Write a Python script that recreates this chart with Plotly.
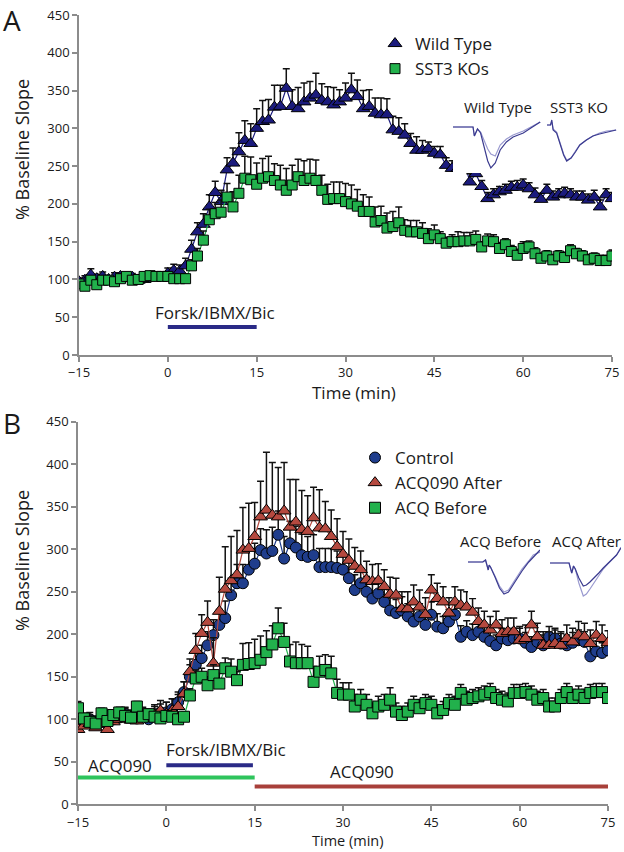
import plotly.graph_objects as go

# ---------------- data ----------------
time_min = list(range(-15, 76))

# Panel A
wt_mean = [97, 99, 106, 101, 104, 100, 103, 104, 101, 103,
           99, 100, 104, 103, 103, 108, 112, 111, 118, 140,
           163, 173, 196, 215, 203, 245, 254, 269, 284, 280,
           300, 309, 311, 328, 329, 353, 329, 326, 335, 340,
           344, 337, 335, 331, 335, 340, 351, 342, 326, 329,
           320, 318, 318, 298, 296, 291, 280, 271, 271, 273,
           267, 265, 251, 247, 247, 258, 229, 240, 223, 207,
           212, 216, 218, 222, 222, 225, 220, 212, 206, 218,
           209, 212, 214, 212, 209, 209, 205, 209, 196, 212,
           207]
wt_sem = [5, 6, 8, 6, 6, 5, 6, 5, 6, 5,
          5, 6, 5, 6, 6, 7, 8, 8, 10, 12,
          12, 14, 16, 15, 15, 16, 20, 25, 26, 26,
          26, 28, 27, 29, 28, 26, 22, 28, 25, 22,
          29, 22, 20, 23, 16, 20, 22, 22, 24, 22,
          20, 22, 21, 18, 18, 15, 13, 18, 13, 9,
          9, 11, 10, 10, 10, 9, 11, 7, 8, 8,
          8, 7, 8, 8, 9, 8, 8, 9, 8, 8,
          8, 8, 8, 8, 8, 8, 8, 9, 9, 8,
          8]
ko_mean = [94, 91, 99, 93, 99, 99, 97, 101, 104, 99,
           100, 104, 105, 104, 104, 104, 101, 101, 101, 118,
           131, 152, 179, 187, 189, 209, 196, 214, 234, 232,
           226, 234, 236, 231, 225, 218, 225, 236, 231, 234,
           231, 218, 206, 207, 207, 203, 200, 197, 190, 190,
           176, 178, 168, 170, 175, 165, 163, 163, 161, 154,
           159, 154, 148, 150, 150, 151, 151, 153, 143, 151,
           150, 141, 146, 137, 132, 141, 143, 134, 128, 131,
           126, 131, 129, 138, 134, 131, 126, 128, 125, 125,
           131]
ko_sem = [4, 4, 4, 4, 4, 4, 4, 4, 4, 4,
          4, 4, 4, 4, 4, 5, 5, 5, 6, 8,
          10, 12, 14, 15, 16, 18, 20, 24, 29, 30,
          28, 26, 27, 22, 26, 29, 26, 23, 26, 25,
          27, 20, 20, 22, 22, 24, 25, 22, 22, 19,
          20, 19, 20, 20, 21, 14, 15, 15, 14, 13,
          13, 9, 8, 9, 13, 11, 11, 11, 7, 9,
          9, 8, 8, 8, 8, 9, 8, 8, 7, 7,
          7, 7, 7, 8, 7, 7, 7, 7, 7, 7,
          8]

# Panel B
ctrl_mean = [95, 98, 100, 97, 99, 104, 100, 102, 106, 103,
             101, 104, 100, 106, 108, 108, 112, 120, 132, 150,
             164, 172, 187, 199, 211, 219, 246, 260, 260, 276,
             283, 299, 295, 298, 317, 289, 307, 302, 293, 291,
             293, 279, 279, 279, 278, 276, 266, 252, 260, 250,
             242, 248, 238, 228, 225, 228, 221, 215, 221, 211,
             223, 209, 207, 215, 223, 197, 203, 199, 203, 197,
             192, 187, 195, 193, 195, 195, 190, 185, 191, 187,
             197, 195, 189, 187, 190, 193, 191, 174, 180, 178,
             181]
ctrl_sem = [8, 7, 8, 7, 8, 7, 8, 7, 8, 8,
            8, 8, 8, 9, 10, 12, 12, 12, 12, 14,
            15, 15, 16, 18, 18, 20, 20, 22, 22, 24,
            24, 25, 28, 28, 28, 26, 26, 25, 25, 24,
            24, 22, 22, 22, 20, 20, 20, 18, 18, 18,
            18, 18, 17, 16, 16, 16, 15, 15, 15, 15,
            15, 15, 14, 14, 14, 13, 13, 13, 13, 13,
            12, 12, 12, 12, 12, 12, 12, 12, 12, 12,
            12, 12, 12, 12, 12, 12, 12, 12, 12, 12,
            12]
after_mean = [88, 92, 95, 90, 94, 88, 97, 100, 103, 99,
              98, 104, 101, 105, 110, 106, 110, 115, 130, 156,
              181, 201, 214, 166, 227, 253, 263, 270, 299, 301,
              315, 338, 346, 340, 338, 345, 326, 332, 323, 321,
              337, 325, 324, 315, 303, 294, 287, 280, 276, 264,
              262, 263, 256, 247, 246, 230, 230, 238, 232, 223,
              252, 242, 238, 225, 238, 234, 232, 226, 215, 211,
              205, 211, 201, 203, 203, 193, 195, 211, 197, 187,
              187, 189, 187, 195, 191, 199, 197, 189, 199, 195,
              190]
after_sem = [10, 10, 10, 10, 10, 10, 10, 10, 10, 10,
             10, 10, 10, 12, 12, 14, 14, 14, 14, 15,
             20, 22, 25, 30, 40, 50, 52, 52, 50, 53,
             40, 42, 68, 62, 58, 57, 56, 50, 46, 42,
             36, 45, 32, 31, 33, 27, 25, 22, 22, 22,
             20, 20, 20, 20, 20, 20, 20, 20, 20, 20,
             18, 18, 18, 18, 18, 18, 18, 16, 16, 16,
             16, 16, 16, 16, 16, 16, 16, 16, 16, 16,
             16, 16, 16, 16, 16, 16, 16, 16, 16, 16,
             14]
before_mean = [113, 101, 97, 95, 107, 98, 105, 108, 104, 102,
               115, 103, 106, 103, 101, 104, 103, 100, 103, 128,
               148, 150, 140, 152, 142, 160, 156, 146, 164, 165,
               166, 170, 179, 188, 207, 191, 168, 166, 166, 166,
               144, 156, 158, 154, 131, 129, 129, 115, 123, 117,
               107, 115, 117, 123, 109, 105, 109, 117, 113, 119,
               117, 107, 111, 119, 117, 131, 123, 125, 127, 129,
               132, 125, 123, 121, 131, 131, 132, 129, 123, 125,
               115, 115, 125, 132, 125, 129, 125, 131, 132, 132,
               125]
before_sem = [8, 6, 6, 6, 6, 6, 6, 6, 6, 6,
              6, 6, 6, 6, 6, 6, 6, 6, 6, 8,
              10, 10, 10, 12, 12, 12, 15, 10, 25, 25,
              28, 28, 25, 22, 24, 22, 20, 25, 22, 20,
              18, 18, 18, 20, 16, 14, 14, 14, 12, 12,
              12, 12, 12, 14, 10, 10, 10, 10, 10, 10,
              10, 10, 10, 10, 10, 10, 10, 10, 10, 10,
              10, 10, 10, 10, 10, 10, 10, 10, 10, 10,
              10, 10, 10, 10, 10, 10, 10, 10, 10, 10,
              8]

# treatment windows (min)
forsk_window = [0, 15]
acq_before_window = [-15, 15]
acq_after_window = [15, 75]

# example field-potential traces (ms, mV-like units)
wt_trace_t = [0, 4.5, 4.8, 5.5, 6.2, 7.0, 7.8, 8.5, 9.5, 10.6, 12, 13.5, 15.8, 17.5, 19.6]
wt_trace_a = [0, 0, -0.9, -0.2, -0.6, -2.0, -3.4, -4.1, -3.6, -2.3, -1.5, -1.0, -0.6, -0.1, 0.5]
wt_trace_b = [0, 0, -0.9, -0.2, -0.5, -1.3, -2.2, -2.7, -2.9, -1.8, -1.2, -0.8, -0.4, 0.0, 0.5]
ko_trace_t = [0, 0.8, 1.1, 1.4, 2.2, 3.0, 3.8, 4.5, 5.5, 6.5, 7.5, 9.0, 10.5, 12.0, 13.6, 15.8]
ko_trace_a = [0, 0, 0.5, -0.5, -0.8, -1.8, -3.0, -3.6, -3.3, -2.7, -2.0, -1.5, -1.1, -0.9, -0.7, -0.5]
ko_trace_b = [0, 0, 0.3, -0.4, -0.7, -1.7, -2.9, -3.5, -3.3, -2.6, -2.0, -1.5, -1.1, -0.8, -0.6, -0.5]
bef_trace_t = [0, 3.3, 3.9, 4.5, 4.7, 5.0, 6.0, 7.0, 8.0, 9.0, 10.0, 11.0, 12.0, 13.5, 14.5, 16.0]
bef_trace_a = [0, 0, 0.2, -0.8, -0.3, -0.5, -1.5, -2.6, -3.2, -3.0, -2.3, -1.6, -0.9, 0.0, 0.5, 1.2]
bef_trace_b = [0, 0, 0.2, -0.8, -0.3, -0.5, -1.4, -2.4, -3.0, -2.8, -2.1, -1.4, -0.7, 0.1, 0.7, 1.0]
aft_trace_t = [0, 4.3, 4.9, 5.3, 5.7, 6.5, 7.5, 8.2, 9.0, 10.0, 11.0, 12.0, 13.0, 14.0, 15.0, 16.0]
aft_trace_a = [0, 0, -1.0, -0.3, -0.6, -2.0, -3.3, -3.1, -2.6, -1.9, -1.2, -0.6, -0.1, 0.4, 0.8, 1.6]
aft_trace_b = [0, 0, -1.0, -0.3, -0.6, -1.5, -2.3, -2.2, -1.9, -1.5, -1.0, -0.5, -0.1, 0.4, 0.8, 1.5]

# ---------------- style ----------------
W, H = 624, 852
FONT = "Open Sans"
TXT = "#1a1a1a"
AX = "#8c8c8c"
NAVY = "#1b1b7d"
GREEN = "#22b14c"
BLUE = "#1f3d8c"
RED = "#b5493f"
TR_DARK = "#3b3b8f"
TR_LIGHT = "#9a9ad0"
DB = -5  # vertical nudge of panel B (px)


def px(x):
    return x / W


def py(y):
    return 1 - y / H


fig = go.Figure()


def add_series(x, y, err, name, color, symbol, size, xa, ya, legend):
    fig.add_trace(go.Scatter(x=x, y=y, mode="lines", line=dict(color=color, width=1.2),
                             showlegend=False, hoverinfo="skip", xaxis=xa, yaxis=ya))
    fig.add_trace(go.Scatter(
        x=x, y=y, mode="markers", name=name, legend=legend,
        marker=dict(symbol=symbol, size=size, color=color, line=dict(color="#000", width=1)),
        error_y=dict(type="data", symmetric=False, array=err, arrayminus=[0] * len(err),
                     color="#111", thickness=1.5, width=3.5),
        xaxis=xa, yaxis=ya))


add_series(time_min, wt_mean, wt_sem, "Wild Type", NAVY, "triangle-up", 12, "x", "y", "legend")
add_series(time_min, ko_mean, ko_sem, "SST3 KOs", GREEN, "square", 10, "x", "y", "legend")
add_series(time_min, ctrl_mean, ctrl_sem, "Control", BLUE, "circle", 11, "x2", "y2", "legend2")
add_series(time_min, after_mean, after_sem, "ACQ090 After", RED, "triangle-up", 12, "x2", "y2", "legend2")
add_series(time_min, before_mean, before_sem, "ACQ Before", GREEN, "square", 11, "x2", "y2", "legend2")

# inset traces
insets = [
    ("x3", "y3", wt_trace_t, wt_trace_a, wt_trace_b),
    ("x4", "y4", ko_trace_t, ko_trace_a, ko_trace_b),
    ("x5", "y5", bef_trace_t, bef_trace_a, bef_trace_b),
    ("x6", "y6", aft_trace_t, aft_trace_b, aft_trace_a),
]
for xa, ya, t, a, b in insets:
    fig.add_trace(go.Scatter(x=t, y=b, mode="lines", line=dict(color=TR_LIGHT, width=1.2),
                             showlegend=False, hoverinfo="skip", xaxis=xa, yaxis=ya))
    fig.add_trace(go.Scatter(x=t, y=a, mode="lines", line=dict(color=TR_DARK, width=1.2),
                             showlegend=False, hoverinfo="skip", xaxis=xa, yaxis=ya))

axis_common = dict(showline=True, linecolor=AX, linewidth=1.5, ticks="outside", tickcolor=AX,
                   ticklen=5, tickwidth=1.5, showgrid=False, zeroline=False, automargin=False,
                   tickfont=dict(family=FONT, size=13, color=TXT))

fig.update_layout(
    width=W, height=H, margin=dict(l=0, r=0, t=0, b=0, autoexpand=False),
    paper_bgcolor="white", plot_bgcolor="white",
    font=dict(family=FONT, color=TXT),
    xaxis=dict(domain=[px(79), px(612)], range=[-15, 75], tickvals=[-15, 0, 15, 30, 45, 60, 75],
               anchor="y", **axis_common),
    yaxis=dict(domain=[py(355), py(15)], range=[0, 450], dtick=50, anchor="x", **axis_common),
    xaxis2=dict(domain=[px(78), px(608)], range=[-15, 75], tickvals=[-15, 0, 15, 30, 45, 60, 75],
                anchor="y2", **axis_common),
    yaxis2=dict(domain=[py(809.3 + DB), py(426.7 + DB)], range=[0, 450], dtick=50, anchor="x2",
                **axis_common),
    legend=dict(x=px(375), y=py(26), xanchor="left", yanchor="top", bgcolor="rgba(0,0,0,0)",
                font=dict(family=FONT, size=17, color=TXT), tracegroupgap=0),
    legend2=dict(x=px(355), y=py(445 + DB), xanchor="left", yanchor="top", bgcolor="rgba(0,0,0,0)",
                 font=dict(family=FONT, size=17, color=TXT), tracegroupgap=0),
)

hidden = dict(visible=False, showgrid=False, zeroline=False, fixedrange=True, automargin=False)
fig.update_layout(
    xaxis3=dict(domain=[px(453), px(542)], range=[0, 20], anchor="y3", **hidden),
    yaxis3=dict(domain=[py(173), py(117)], range=[-4.6, 1.0], anchor="x3", **hidden),
    xaxis4=dict(domain=[px(547), px(617)], range=[0, 16], anchor="y4", **hidden),
    yaxis4=dict(domain=[py(165), py(115)], range=[-4.0, 1.0], anchor="x4", **hidden),
    xaxis5=dict(domain=[px(468), px(540)], range=[0, 16], anchor="y5", **hidden),
    yaxis5=dict(domain=[py(603 + DB), py(551 + DB)], range=[-3.6, 1.6], anchor="x5", **hidden),
    xaxis6=dict(domain=[px(550), px(621)], range=[0, 16], anchor="y6", **hidden),
    yaxis6=dict(domain=[py(604 + DB), py(552 + DB)], range=[-3.6, 1.6], anchor="x6", **hidden),
)

# treatment bars
fig.add_shape(type="line", xref="x", yref="y", x0=forsk_window[0], x1=forsk_window[1], y0=37, y1=37,
              line=dict(color="#2a2a86", width=4))
fig.add_shape(type="line", xref="x2", yref="y2", x0=acq_before_window[0], x1=acq_before_window[1],
              y0=31.5, y1=31.5, line=dict(color="#2ec45c", width=4))
fig.add_shape(type="line", xref="x2", yref="y2", x0=forsk_window[0], x1=forsk_window[1] - 0.3,
              y0=46, y1=46, line=dict(color="#2a2a86", width=4))
fig.add_shape(type="line", xref="x2", yref="y2", x0=acq_after_window[0], x1=acq_after_window[1],
              y0=21, y1=21, line=dict(color="#a8403a", width=4))

ann = []


def text(x, y, s, size, xref="paper", yref="paper", angle=0, xanchor="center", yanchor="middle"):
    ann.append(dict(x=x, y=y, xref=xref, yref=yref, text=s, showarrow=False, textangle=angle,
                    xanchor=xanchor, yanchor=yanchor, font=dict(family=FONT, size=size, color=TXT)))


text(px(1), py(20), "A", 28, xanchor="left")
text(px(1), py(428 + DB), "B", 28, xanchor="left")
text(px(22), py(150), "% Baseline Slope", 18, angle=-90)
text(px(22), py(566 + DB), "% Baseline Slope", 18, angle=-90)
text(px(354), py(393), "Time (min)", 17)
text(px(348), py(851.5), "Time (min)", 14.5, yanchor="bottom")
text(8, 56, "Forsk/IBMX/Bic", 17, xref="x", yref="y")
text(10.2, 64, "Forsk/IBMX/Bic", 17, xref="x2", yref="y2")
text(-7.9, 46, "ACQ090", 17, xref="x2", yref="y2")
text(33.2, 38, "ACQ090", 17, xref="x2", yref="y2")
text(px(498), py(107), "Wild Type", 15)
text(px(579), py(107), "SST3 KO", 15)
text(px(500), py(546 + DB), "ACQ Before", 15)
text(px(586), py(546 + DB), "ACQ After", 15)
fig.update_layout(annotations=ann)

fig.write_html("out.html", config={"displayModeBar": False},
               post_script="document.body.style.margin='0';document.body.style.overflow='hidden';")
